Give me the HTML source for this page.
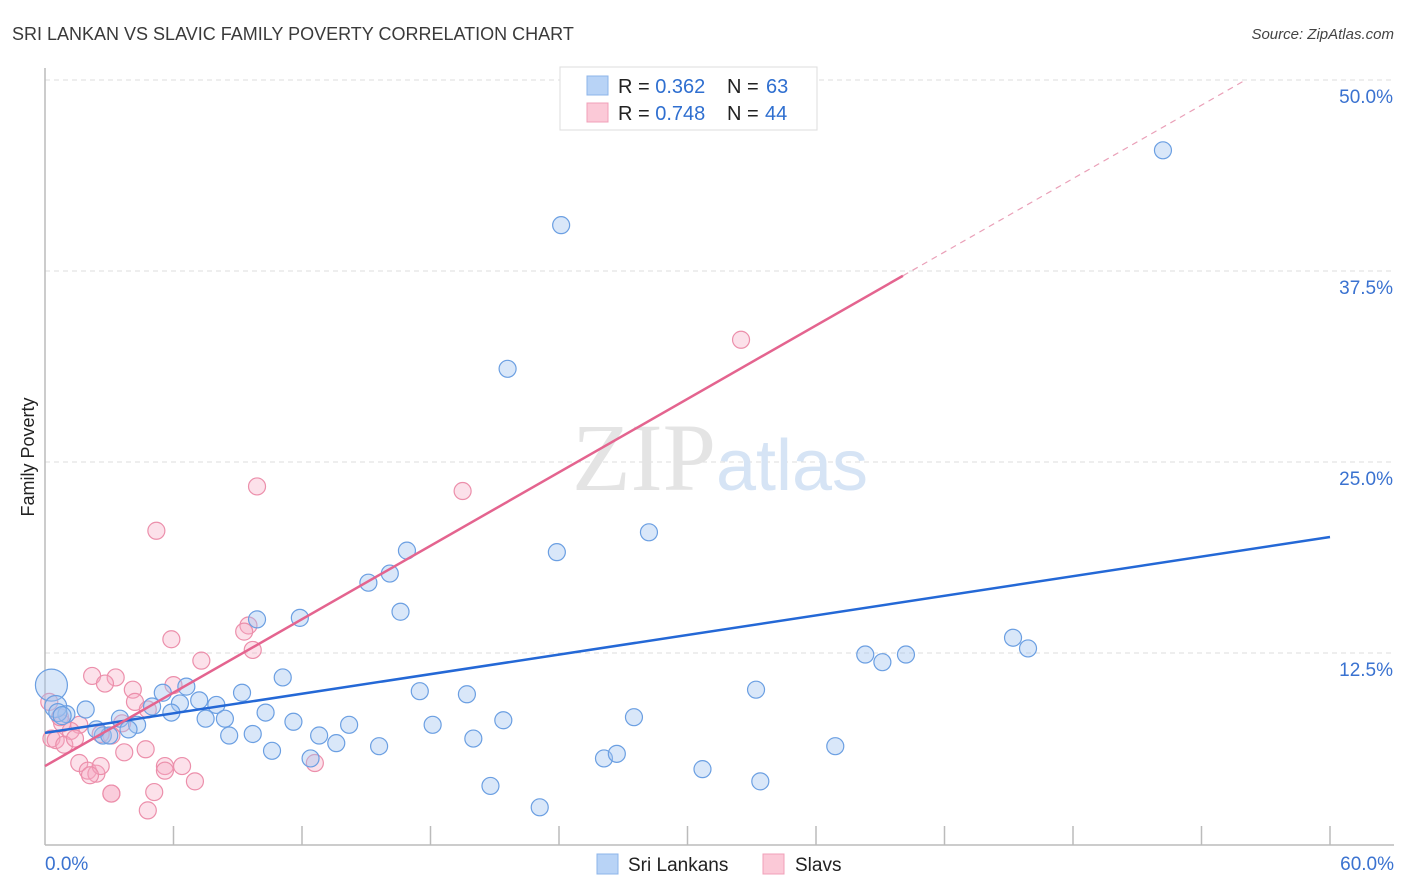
<!DOCTYPE html>
<html><head><meta charset="utf-8">
<style>
body{margin:0;background:#fff;font-family:"Liberation Sans",sans-serif;}
svg{display:block}
</style></head>
<body>
<svg id="chart" width="1406" height="892" xmlns="http://www.w3.org/2000/svg">
<text x="12" y="40" font-size="18" fill="#3a3a3a" font-family="Liberation Sans, sans-serif">SRI LANKAN VS SLAVIC FAMILY POVERTY CORRELATION CHART</text>
<text x="1394" y="39" font-size="15" fill="#444" text-anchor="end" font-style="italic" font-family="Liberation Sans, sans-serif">Source: ZipAtlas.com</text>
<text transform="translate(34,457) rotate(-90)" font-size="18" fill="#222" text-anchor="middle" font-family="Liberation Sans, sans-serif">Family Poverty</text>
<g id="grid"></g>
<text x="720" y="490" font-size="96" text-anchor="middle" font-family="Liberation Serif, serif" fill="#e4e4e4">ZIP<tspan fill="#d6e4f5" font-family="Liberation Sans, sans-serif" font-size="72">atlas</tspan></text>
<g id="pink"></g>
<g id="blue"></g>
<g id="lines"></g>
<g>
<rect x="560" y="67" width="257" height="63" fill="#fff" stroke="#ddd"/>
<rect x="587" y="76" width="21" height="19" fill="#b8d3f6" stroke="#8db4ea"/>
<rect x="587" y="103" width="21" height="19" fill="#fbc9d7" stroke="#f0a0b8"/>
<text x="618" y="93" font-size="20" fill="#222">R = <tspan fill="#2f6fd0">0.362</tspan></text>
<text x="727" y="93" font-size="20" fill="#222">N = </text>
<text x="766" y="93" font-size="20" fill="#2f6fd0">63</text>
<text x="618" y="120" font-size="20" fill="#222">R = <tspan fill="#2f6fd0">0.748</tspan></text>
<text x="727" y="120" font-size="20" fill="#222">N = </text>
<text x="765" y="120" font-size="20" fill="#2f6fd0">44</text>
</g>
<g>
<rect x="597" y="854" width="21" height="20" fill="#b8d3f6" stroke="#8db4ea"/>
<text x="628" y="871" font-size="19" fill="#222">Sri Lankans</text>
<rect x="763" y="854" width="21" height="20" fill="#fbc9d7" stroke="#f0a0b8"/>
<text x="795" y="871" font-size="19" fill="#222">Slavs</text>
</g>
</svg>
<script>
const xTicks=[0,6,12,18,24,30,36,42,48,54,60];
const yTicks=[12.5,25,37.5,50];
const blueX=[52.2,24.1,21.6,28.2,23.9,16.9,16.1,15.1,16.6,9.9,11.9,38.3,39.1,40.2,45.2,45.9,33.2,11.1,9.2,5.5,6.6,7.2,8.0,6.3,5.0,5.9,7.5,8.4,10.3,11.6,17.5,19.7,21.4,18.1,14.2,12.8,13.6,15.6,20.0,8.6,9.7,10.6,12.4,27.5,26.1,26.7,30.7,33.4,36.9,20.8,23.1,4.3,3.5,3.9,2.7,3.0,1.9,2.4,1.0,0.3,0.5,0.6,0.8];
const blueY=[45.4,40.5,31.1,20.4,19.1,19.2,17.7,17.1,15.2,14.7,14.8,12.4,11.9,12.4,13.5,12.8,10.1,10.9,9.9,9.9,10.3,9.4,9.1,9.2,9.0,8.6,8.2,8.2,8.6,8.0,10.0,9.8,8.1,7.8,7.8,7.1,6.6,6.4,6.9,7.1,7.2,6.1,5.6,8.3,5.6,5.9,4.9,4.1,6.4,3.8,2.4,7.8,8.2,7.5,7.1,7.1,8.8,7.5,8.5,10.4,9.0,8.6,8.4];
const blueR=[8.5,8.5,8.5,8.5,8.5,8.5,8.5,8.5,8.5,8.5,8.5,8.5,8.5,8.5,8.5,8.5,8.5,8.5,8.5,8.5,8.5,8.5,8.5,8.5,8.5,8.5,8.5,8.5,8.5,8.5,8.5,8.5,8.5,8.5,8.5,8.5,8.5,8.5,8.5,8.5,8.5,8.5,8.5,8.5,8.5,8.5,8.5,8.5,8.5,8.5,8.5,8.5,8.5,8.5,8.5,8.5,8.5,8.5,8.5,16,11,9,9];
const pinkX=[32.5,9.9,19.5,5.2,9.5,9.3,9.7,5.9,7.3,2.2,3.3,2.8,4.1,6.0,4.2,4.8,3.6,3.1,1.6,1.2,0.8,0.3,0.5,0.9,1.4,2.6,4.7,3.7,1.6,2.0,2.4,2.6,2.1,5.6,6.4,5.6,7.0,3.1,3.1,5.1,4.8,12.6,0.2,0.7];
const pinkY=[33.0,23.4,23.1,20.5,14.3,13.9,12.7,13.4,12.0,11.0,10.9,10.5,10.1,10.4,9.3,8.8,7.9,7.1,7.8,7.4,7.9,6.9,6.8,6.5,6.9,7.2,6.2,6.0,5.3,4.8,4.6,5.1,4.5,5.1,5.1,4.8,4.1,3.3,3.3,3.4,2.2,5.3,9.3,8.3];
const blueLine=[7.27,20.09];
const pinkLine={a:5.1,b:0.801,solidEnd:40.06};
const X=v=>45+v/60*1285, Y=v=>844-v/12.5*191;
const NS="http://www.w3.org/2000/svg";
function mk(tag,attrs,parent){const e=document.createElementNS(NS,tag);for(const k in attrs)e.setAttribute(k,attrs[k]);parent.appendChild(e);return e;}
const grid=document.getElementById('grid');
yTicks.forEach(t=>{
 const l=mk('line',{x1:45,x2:1394,y1:Y(t),y2:Y(t),stroke:'#ddd','stroke-dasharray':'5,4'},grid);
 
 
 const tx=mk('text',{x:1393,y:Y(t)+23,'font-size':19,fill:'#3a72d0','text-anchor':'end'},grid);
 tx.textContent=t.toFixed(1)+'%';
 
 
});
const ax=mk('line',{x1:45,x2:1394,y1:845,y2:845,stroke:'#bbb','stroke-width':1.5},grid);


const ay=mk('line',{x1:45,x2:45,y1:68,y2:845,stroke:'#bbb','stroke-width':1.5},grid);


xTicks.forEach((t,i)=>{
 if(i===0)return;
 const l=mk('line',{x1:X(t),x2:X(t),y1:826,y2:845,stroke:'#bbb','stroke-width':1.5},grid);
 
 
});
[[0,'start',45],[60,'end',1394]].forEach(([v,a,x])=>{
 const tx=mk('text',{x:x,y:870,'font-size':19,fill:'#3a72d0','text-anchor':a},grid);
 tx.textContent=v.toFixed(1)+'%';
 
 
});
const pg=document.getElementById('pink');
pinkX.forEach((v,i)=>{
 const c=mk('circle',{cx:X(v),cy:Y(pinkY[i]),r:8.5,fill:'rgba(246,170,195,0.35)',stroke:'#ec8fab','stroke-width':1.2},pg);
 
 
});
const bg=document.getElementById('blue');
blueX.forEach((v,i)=>{
 const c=mk('circle',{cx:X(v),cy:Y(blueY[i]),r:blueR[i],fill:'rgba(160,195,240,0.4)',stroke:'#6b9fe2','stroke-width':1.2},bg);
 
 
});
const lg=document.getElementById('lines');
const bl=mk('line',{x1:X(0),y1:Y(blueLine[0]),x2:X(60),y2:Y(blueLine[1]),stroke:'#2468d6','stroke-width':2.5},lg);


const pe=pinkLine.solidEnd, pd=(50-pinkLine.a)/pinkLine.b;
const pl=mk('line',{x1:X(0),y1:Y(pinkLine.a),x2:X(pe),y2:Y(pinkLine.a+pinkLine.b*pe),stroke:'#e4648f','stroke-width':2.5},lg);


const pdl=mk('line',{x1:X(pe),y1:Y(pinkLine.a+pinkLine.b*pe),x2:X(pd),y2:Y(50),stroke:'#eaa0b8','stroke-width':1.2,'stroke-dasharray':'6,5'},lg);


</script>
</body></html>
